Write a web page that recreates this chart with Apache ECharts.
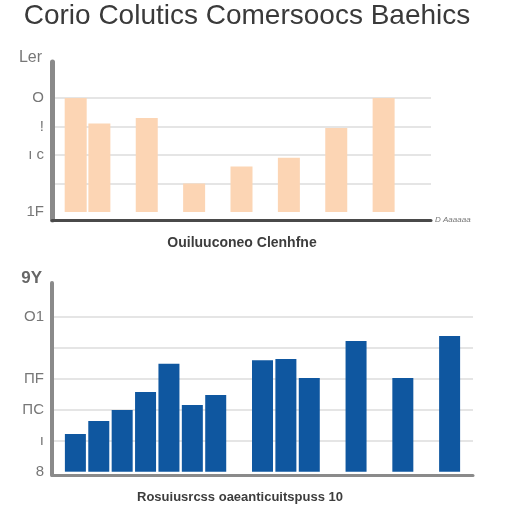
<!DOCTYPE html>
<html>
<head>
<meta charset="utf-8">
<script src="https://cdn.jsdelivr.net/npm/echarts@6/dist/echarts.min.js"></script>
<style>html,body{margin:0;padding:0;background:#fff}#c{width:512px;height:512px}</style>
</head>
<body>
<div id="c"></div>
<script>
// ---- data ----
const topCategories = ['t0','t1','t2','t3','t4','t5','t6','t7','t8','t9','t10','t11','t12','t13','t14','t15','t16'];
const topValues = [null, 40, 31, null, 33, null, 10, null, 16, null, 19, null, 29.5, null, 40, null, null];
const topTickLabels = {0: '1F', 20: 'ı c', 30: '!', 40: 'O'};

const bottomCategories = ['b0','b1','b2','b3','b4','b5','b6','b7','b8','b9','b10','b11','b12','b13','b14','b15','b16','b17','b18'];
const bottomValues = [null, 12.2, 16.4, 20, 25.8, 34.9, 21.6, 24.8, null, 36.1, 36.5, 30.3, null, 42.3, null, 30.3, null, 43.9, null];
const bottomTickLabels = {0: '8', 10: 'ı', 20: 'ΠC', 30: 'ΠF', 50: 'O1'};

const titleText = 'Corio Colutics Comersoocs Baehics';
const topCaption = 'Ouiluuconeo Clenhfne';
const bottomCaption = 'Rosuiusrcss oaeanticuitspuss 10';

function pick(map) {
  return v => (Math.abs(v - Math.round(v)) < 1e-6 && map[Math.round(v)] !== undefined) ? map[Math.round(v)] : '';
}

const T = 'rgba(0,0,0,0)', G = '#dcdcdc';
const chart = echarts.init(document.getElementById('c'));
chart.setOption({
  animation: false,
  backgroundColor: '#fff',
  graphic: [
    {type:'text', x:247, y:16, style:{text:titleText, font:'28px "Liberation Sans"', fill:'#3a3a3a', align:'center', verticalAlign:'middle', textAlign:'center', textVerticalAlign:'middle'}},
    {type:'text', x:242, y:243, style:{text:topCaption, font:'bold 14px "Liberation Sans"', fill:'#3d3d3d', align:'center', verticalAlign:'middle', textAlign:'center', textVerticalAlign:'middle'}},
    {type:'text', x:240, y:497, style:{text:bottomCaption, font:'bold 13px "Liberation Sans"', fill:'#3d3d3d', align:'center', verticalAlign:'middle', textAlign:'center', textVerticalAlign:'middle'}}
  ],
  grid: [
    {left:52, top:62, width:379, height:158},
    {left:52, top:283, width:421, height:192}
  ],
  xAxis: [
    {gridIndex:0, type:'category', data:topCategories, boundaryGap:false,
     axisLine:{onZero:false, lineStyle:{color:'#4a4a4a', width:3}}, axisTick:{show:false}, axisLabel:{show:false},
     name:'D Aaaaaa', nameLocation:'end', nameGap:4, nameTextStyle:{color:'#777', fontSize:8, fontStyle:'italic'}},
    {gridIndex:1, type:'category', data:bottomCategories, boundaryGap:false,
     axisLine:{onZero:false, lineStyle:{color:'#8a8a8a', width:3}}, axisTick:{show:false}, axisLabel:{show:false}}
  ],
  yAxis: [
    {gridIndex:0, type:'value', min:-2.8, max:52.6, splitNumber:5,
     axisLine:{show:true, lineStyle:{color:'#8a8a8a', width:5}}, axisTick:{show:false},
     axisLabel:{color:'#777', fontSize:15, fontFamily:'Liberation Sans', margin:8, showMinLabel:false, showMaxLabel:false, formatter: pick(topTickLabels)},
     splitLine:{show:true, lineStyle:{color:[T, T, G, G, G, G, T, T], width:1.5}},
     name:'Ler', nameLocation:'end', nameGap:-4, nameTextStyle:{color:'#777', fontSize:16, align:'right', padding:[0,10,0,0]}},
    {gridIndex:1, type:'value', min:-1.07, max:61.07, splitNumber:6,
     axisLine:{show:true, lineStyle:{color:'#8a8a8a', width:4}}, axisTick:{show:false},
     axisLabel:{color:'#777', fontSize:15, fontFamily:'Liberation Sans', margin:8, showMinLabel:false, showMaxLabel:false, formatter: pick(bottomTickLabels)},
     splitLine:{show:true, lineStyle:{color:[T, T, G, G, G, G, G, T, T], width:1.5}},
     name:'9Y', nameLocation:'end', nameGap:-4, nameTextStyle:{color:'#666', fontSize:17, fontWeight:'bold', align:'right', padding:[0,10,0,0]}}
  ],
  series: [
    {type:'bar', xAxisIndex:0, yAxisIndex:0, data:topValues, barWidth:22, itemStyle:{color:'#fcd5b4'}},
    {type:'bar', xAxisIndex:1, yAxisIndex:1, data:bottomValues, barWidth:21, itemStyle:{color:'#0f57a0'}}
  ]
});
</script>
</body>
</html>
